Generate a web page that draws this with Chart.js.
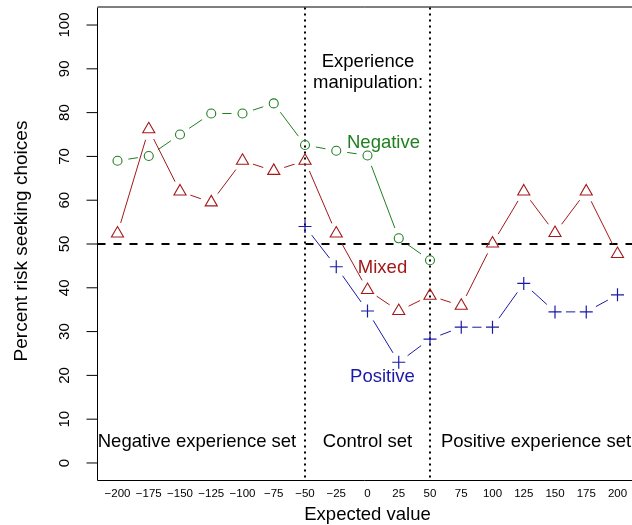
<!DOCTYPE html>
<html lang="en">
<head>
<meta charset="UTF-8">
<title>Risk seeking by expected value</title>
<script src="https://cdn.jsdelivr.net/npm/chart.js"></script>
<style>
  html, body { margin: 0; padding: 0; background: #fff; overflow: hidden; }
  #chart { display: block; }
</style>
</head>
<body>
<canvas id="chart" width="632" height="525"></canvas>
<script>
// Expected values per condition
const xNegative = [-200, -175, -150, -125, -100, -75, -50, -25, 0, 25, 50];
const xMixed = [-200, -175, -150, -125, -100, -75, -50, -25, 0, 25, 50, 75, 100, 125, 150, 175, 200];
const xPositive = [-50, -25, 0, 25, 50, 75, 100, 125, 150, 175, 200];

// Percent risk seeking choices
const negative = [69.0, 70.1, 75.0, 79.8, 79.8, 82.1, 72.6, 71.3, 70.2, 51.3, 46.3];
const mixed = [52.4, 76.2, 62.0, 59.5, 69.0, 66.7, 69.0, 52.4, 39.5, 34.7, 38.2, 35.9, 50.1, 62.0, 52.5, 62.0, 47.7];
const positive = [54.0, 44.8, 34.7, 23.0, 28.3, 31.0, 31.0, 41.0, 34.5, 34.5, 38.4];

const xTicks = [-200, -175, -150, -125, -100, -75, -50, -25, 0, 25, 50, 75, 100, 125, 150, 175, 200];
const yTicks = [0, 10, 20, 30, 40, 50, 60, 70, 80, 90, 100];
const setBounds = [-50, 50];
const chanceLevel = 50;

const GREEN = '#1f7f1f';
const RED = '#a31818';
const BLUE = '#1a1aa8';
const FONT = '"Liberation Sans", Arial, Helvetica, sans-serif';

function pts(xs, ys) {
    return xs.map((x, i) => ({ x: x, y: ys[i] }));
}

// R style type="b": line segments that stop short of the symbols
const gappedLines = {
    id: 'gappedLines',
    beforeDatasetsDraw(chart) {
        const ctx = chart.ctx;
        const gap = 11;
        chart.data.datasets.forEach((ds, i) => {
            const p = chart.getDatasetMeta(i).data;
            ctx.save();
            ctx.strokeStyle = ds.borderColor;
            ctx.lineWidth = 1;
            for (let k = 0; k < p.length - 1; k++) {
                const dx = p[k + 1].x - p[k].x, dy = p[k + 1].y - p[k].y;
                const len = Math.hypot(dx, dy);
                if (len <= 2 * gap) continue;
                const ux = dx / len, uy = dy / len;
                ctx.beginPath();
                ctx.moveTo(p[k].x + ux * gap, p[k].y + uy * gap);
                ctx.lineTo(p[k + 1].x - ux * gap, p[k + 1].y - uy * gap);
                ctx.stroke();
            }
            ctx.restore();
        });
    }
};

// reference lines, box, axes and text
const decorations = {
    id: 'decorations',
    beforeDatasetsDraw(chart) {
        const ctx = chart.ctx;
        const a = chart.chartArea;
        const xs = chart.scales.x, ys = chart.scales.y;
        ctx.save();
        // dashed line at 50%
        ctx.strokeStyle = '#000';
        ctx.lineWidth = 2;
        ctx.setLineDash([8, 8]);
        const y50 = ys.getPixelForValue(chanceLevel);
        ctx.beginPath();
        ctx.moveTo(a.left, y50);
        ctx.lineTo(a.right, y50);
        ctx.stroke();
        // dotted set boundaries
        ctx.lineWidth = 2;
        ctx.setLineDash([2, 4]);
        setBounds.forEach(v => {
            const x = xs.getPixelForValue(v);
            ctx.beginPath();
            ctx.moveTo(x, a.top);
            ctx.lineTo(x, a.bottom);
            ctx.stroke();
        });
        ctx.restore();
    },
    afterDraw(chart) {
        const ctx = chart.ctx;
        const a = chart.chartArea;
        const xs = chart.scales.x, ys = chart.scales.y;
        ctx.save();
        // box
        ctx.strokeStyle = '#000';
        ctx.lineWidth = 1;
        ctx.beginPath();
        ctx.moveTo(a.right, 7);
        ctx.lineTo(a.left, 7);
        ctx.moveTo(a.left, a.top);
        ctx.lineTo(a.left, a.bottom);
        ctx.lineTo(a.right, a.bottom);
        ctx.stroke();
        // y ticks and rotated labels
        ctx.fillStyle = '#000';
        ctx.font = '15px ' + FONT;
        ctx.textAlign = 'center';
        ctx.textBaseline = 'alphabetic';
        yTicks.forEach(v => {
            const y = ys.getPixelForValue(v);
            ctx.beginPath();
            ctx.moveTo(a.left - 11, y);
            ctx.lineTo(a.left, y);
            ctx.stroke();
            ctx.save();
            ctx.translate(68.5, y);
            ctx.rotate(-Math.PI / 2);
            ctx.fillText(String(v), 0, 0);
            ctx.restore();
        });
        // x labels
        ctx.font = '11.5px ' + FONT;
        ctx.textBaseline = 'middle';
        xTicks.forEach(v => {
            ctx.fillText(String(v).replace('-', '\u2212'), xs.getPixelForValue(v), 494);
        });
        // axis titles
        ctx.font = '18.5px ' + FONT;
        ctx.textBaseline = 'alphabetic';
        ctx.fillText('Expected value', 367.5, 520);
        ctx.save();
        ctx.font = '19px ' + FONT;
        ctx.translate(27, 241);
        ctx.rotate(-Math.PI / 2);
        ctx.fillText('Percent risk seeking choices', 0, 0);
        ctx.restore();
        // annotations
        ctx.fillText('Experience', 368, 66.5);
        ctx.fillText('manipulation:', 368, 88);
        ctx.fillText('Negative experience set', 197, 447);
        ctx.fillText('Control set', 367.5, 447);
        ctx.fillText('Positive experience set', 536, 447);
        ctx.fillStyle = GREEN;
        ctx.fillText('Negative', 383.5, 148);
        ctx.fillStyle = RED;
        ctx.fillText('Mixed', 382.5, 273);
        ctx.fillStyle = BLUE;
        ctx.fillText('Positive', 382.5, 382);
        ctx.restore();
    }
};

new Chart(document.getElementById('chart'), {
    type: 'scatter',
    data: {
        datasets: [
            {
                label: 'Negative',
                data: pts(xNegative, negative),
                borderColor: GREEN,
                pointStyle: 'circle',
                pointRadius: 4.5,
                pointBorderWidth: 1.1,
                pointBackgroundColor: 'rgba(0,0,0,0)',
                showLine: false
            },
            {
                label: 'Mixed',
                data: pts(xMixed, mixed),
                borderColor: RED,
                pointStyle: 'triangle',
                pointRadius: 7,
                pointBorderWidth: 1.1,
                pointBackgroundColor: 'rgba(0,0,0,0)',
                showLine: false
            },
            {
                label: 'Positive',
                data: pts(xPositive, positive),
                borderColor: BLUE,
                pointStyle: 'cross',
                pointRadius: 6.5,
                pointBorderWidth: 1.2,
                showLine: false
            }
        ]
    },
    options: {
        responsive: false,
        animation: false,
        events: [],
        layout: {
            autoPadding: false,
            padding: { left: 97.5, top: 7.5, right: 0, bottom: 44.5 }
        },
        plugins: {
            legend: { display: false },
            tooltip: { enabled: false }
        },
        scales: {
            x: { type: 'linear', display: false, min: -216, max: 211.6 },
            y: { type: 'linear', display: false, min: -4, max: 104 }
        }
    },
    plugins: [decorations, gappedLines]
});
</script>
</body>
</html>
